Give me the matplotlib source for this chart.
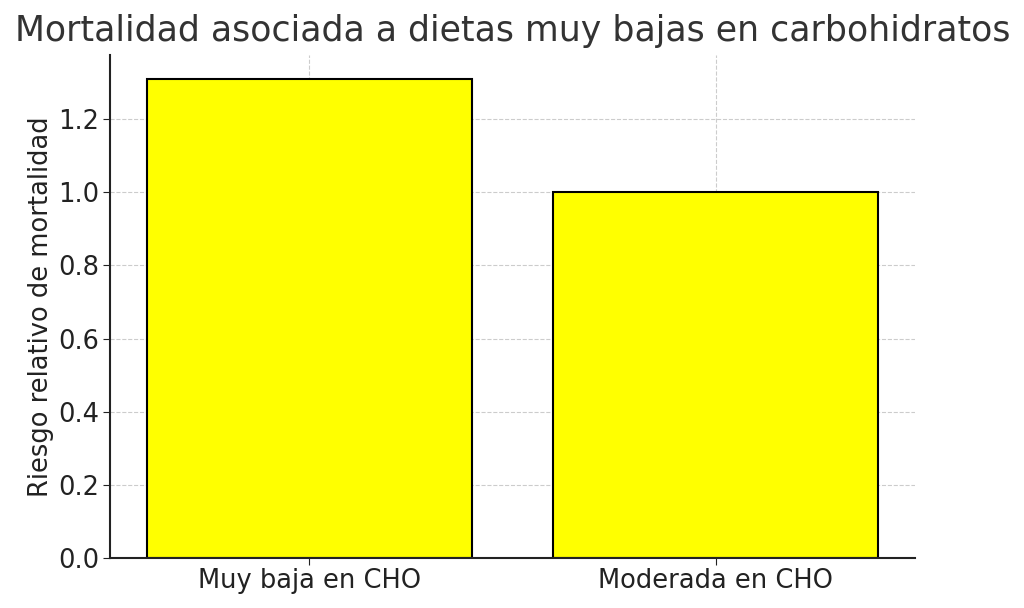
import matplotlib
matplotlib.use("Agg")
import matplotlib.pyplot as plt

categories = ["Muy baja en CHO", "Moderada en CHO"]
riesgo = [1.31, 1.0]

fig = plt.figure(figsize=(10.24, 6.08), dpi=100)
ax = fig.add_axes([110 / 1024, 1 - 558 / 608, 805 / 1024, 503 / 608])
ax.bar(categories, riesgo, color="yellow", edgecolor="black", linewidth=1.5, zorder=2)
ax.set_title("Mortalidad asociada a dietas muy bajas en carbohidratos",
             fontsize=25, color="#333333", pad=10)
ax.set_ylabel("Riesgo relativo de mortalidad", fontsize=18.5, color="#222222", labelpad=3)
ax.tick_params(labelsize=18.5, colors="#222222", length=5, pad=2.5)
ax.grid(True, linestyle="--", color="#cccccc", linewidth=0.8, zorder=0)
ax.spines["top"].set_visible(False)
ax.spines["right"].set_visible(False)
for s in ("left", "bottom"):
    ax.spines[s].set_linewidth(1.5)
    ax.spines[s].set_color("#222222")
fig.savefig("out.png", dpi=100)
